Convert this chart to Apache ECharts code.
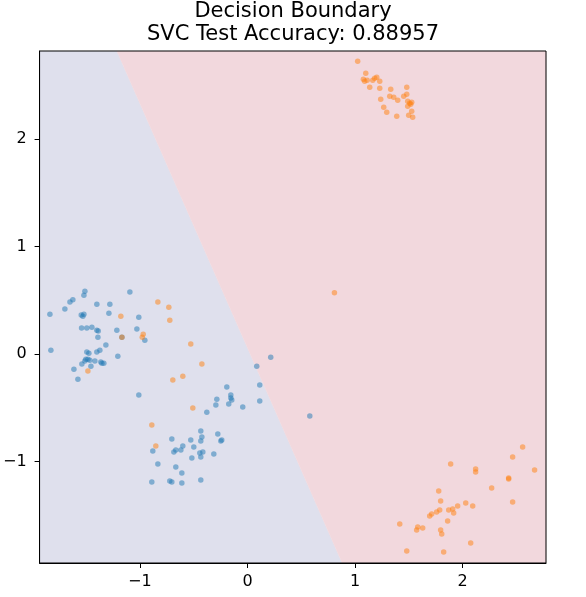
<!DOCTYPE html>
<html>
<head>
<meta charset="utf-8">
<script src="https://cdn.jsdelivr.net/npm/echarts@6/dist/echarts.min.js"></script>
<style>
  html, body { margin: 0; padding: 0; background: #fff; }
  #chart { width: 586px; height: 597px; }
</style>
</head>
<body>
<div id="chart"></div>
<script>
// ---- data ----
const titleText = 'Decision Boundary\nSVC Test Accuracy: 0.88957';
const xTicks = [-1, 0, 1, 2];
const yTicks = [-1, 0, 1, 2];
const xRange = [-1.932, 2.774];
const yRange = [-1.944, 2.821];
// decision boundary endpoints (top edge, bottom edge)
const boundaryTop = [-1.214, 2.821];
const boundaryBottom = [0.880, -1.944];

const class0 = [
  [-1.511,0.586],[-1.520,0.549],[-1.623,0.505],[-1.650,0.484],[-1.093,0.577],
  [-1.400,0.465],[-1.279,0.465],[-1.697,0.419],[-1.836,0.372],[-1.545,0.363],
  [-1.520,0.372],[-1.530,0.353],[-1.288,0.381],[-1.010,0.344],[-1.542,0.242],
  [-1.493,0.242],[-1.446,0.251],[-1.400,0.223],[-1.387,0.214],[-1.214,0.223],
  [-1.028,0.233],[-1.390,0.158],[-0.954,0.130],[-1.316,0.084],[-1.827,0.037],
  [-1.493,0.019],[-1.474,0.009],[-1.400,0.019],[-1.372,0.037],[-1.205,-0.019],
  [-1.502,-0.047],[-1.483,-0.047],[-1.511,-0.065],[-1.539,-0.093],[-1.465,-0.056],
  [-1.418,-0.065],[-1.363,-0.074],[-1.353,-0.084],[-1.335,-0.084],[-1.455,-0.112],
  [-1.613,-0.140],[-1.576,-0.233],[-1.010,-0.381],[-0.192,-0.307],[-0.285,-0.419],
  [0.114,-0.288],[-0.155,-0.381],[-0.146,-0.428],[-0.155,-0.409],[-0.294,-0.474],
  [-0.174,-0.465],[-0.044,-0.493],[0.114,-0.437],[-0.378,-0.540],[0.579,-0.577],
  [-0.434,-0.716],[-0.276,-0.744],[-0.703,-0.791],[-0.527,-0.800],[-0.424,-0.772],
  [-0.434,-0.809],[-0.239,-0.800],[-0.248,-0.809],[-0.601,-0.856],[-0.499,-0.865],
  [-0.880,-0.902],[-0.684,-0.912],[-0.666,-0.893],[-0.619,-0.893],[-0.443,-0.921],
  [-0.415,-0.912],[-0.313,-0.930],[-0.517,-0.967],[-0.434,-0.958],[-0.833,-1.023],
  [-0.666,-1.051],[-0.610,-1.107],[-0.889,-1.191],[-0.722,-1.181],[-0.703,-1.191],
  [-0.610,-1.200],[-0.434,-1.172],[0.216,-0.028],[0.086,-0.112],[-1.167,0.158]
];

const class1 = [
  [-0.833,0.484],[-0.731,0.437],[-1.177,0.353],[-0.722,0.316],[-0.969,0.186],
  [-0.978,0.158],[-1.167,0.158],[-0.527,0.093],[-0.424,-0.093],[-1.483,-0.158],
  [-0.694,-0.242],[-0.601,-0.205],[-0.508,-0.502],[-0.889,-0.660],[-0.852,-0.856],
  [0.808,0.570],
  [1.024,2.726],[1.099,2.614],[1.077,2.558],[1.089,2.540],[1.112,2.549],
  [1.164,2.549],[1.182,2.567],[1.201,2.577],[1.229,2.540],[1.136,2.484],
  [1.229,2.474],[1.331,2.465],[1.480,2.484],[1.480,2.419],[1.452,2.400],
  [1.322,2.400],[1.359,2.391],[1.396,2.363],[1.238,2.372],[1.489,2.353],
  [1.507,2.335],[1.517,2.326],[1.526,2.344],[1.489,2.307],[1.266,2.298],
  [1.294,2.251],[1.526,2.260],[1.387,2.214],[1.498,2.223],[1.535,2.205],
  [2.557,-0.865],[2.464,-0.958],[2.668,-1.079],[1.888,-1.023],[2.120,-1.070],
  [2.120,-1.098],[2.427,-1.153],[2.427,-1.163],[2.269,-1.247],[1.777,-1.274],
  [1.795,-1.367],[2.464,-1.377],[2.028,-1.386],[2.093,-1.414],[1.953,-1.414],
  [1.870,-1.451],[1.907,-1.442],[1.916,-1.479],[1.786,-1.451],[1.758,-1.470],
  [1.712,-1.488],[1.693,-1.507],[1.860,-1.553],[1.415,-1.581],[1.582,-1.609],
  [1.572,-1.637],[1.628,-1.619],[1.795,-1.637],[1.805,-1.674],[2.074,-1.758],
  [1.480,-1.833],[1.823,-1.842]
];

// ---- chart ----
const regions = [
  [[xRange[0], yRange[1]], boundaryTop, boundaryBottom, [xRange[0], yRange[0]]],
  [boundaryTop, [xRange[1], yRange[1]], [xRange[1], yRange[0]], boundaryBottom]
];
const regionColors = ['#dfe0ed', '#f2d8dd'];

const fmt = v => String(v).replace('-', '\u2212');
const font = 'DejaVu Sans';

const chart = echarts.init(document.getElementById('chart'), null, { renderer: 'canvas' });
chart.setOption({
  animation: false,
  backgroundColor: '#ffffff',
  title: {
    text: titleText,
    left: 'center',
    top: 0,
    padding: 0,
    textStyle: { fontFamily: font, fontSize: 21, fontWeight: 'normal', color: '#000', lineHeight: 23 }
  },
  grid: {
    left: 39, right: 40, top: 51, bottom: 34,
    show: true, borderColor: '#000', borderWidth: 1, backgroundColor: 'transparent', z: 10
  },
  xAxis: {
    type: 'value', min: xRange[0], max: xRange[1],
    splitLine: { show: false },
    axisLine: { show: true, onZero: false, lineStyle: { color: '#000', width: 1 } },
    axisTick: { show: true, length: 5, inside: false, customValues: xTicks, lineStyle: { color: '#000' } },
    axisLabel: { customValues: xTicks, formatter: fmt, color: '#000', fontFamily: font, fontSize: 16, margin: 11 }
  },
  yAxis: {
    type: 'value', min: yRange[0], max: yRange[1],
    splitLine: { show: false },
    axisLine: { show: true, onZero: false, lineStyle: { color: '#000', width: 1 } },
    axisTick: { show: true, length: 5, inside: false, customValues: yTicks, lineStyle: { color: '#000' } },
    axisLabel: { customValues: yTicks, formatter: fmt, color: '#000', fontFamily: font, fontSize: 16, margin: 13 }
  },
  series: [
    {
      type: 'custom',
      silent: true,
      z: 0,
      clip: true,
      data: regions.map((r, i) => [r[0][0], r[0][1], i]),
      renderItem: function (params, api) {
        const idx = params.dataIndex;
        const pts = regions[idx].map(p => api.coord(p));
        return {
          type: 'polygon',
          shape: { points: pts },
          style: { fill: regionColors[idx], stroke: regionColors[idx], lineWidth: 0.5 }
        };
      }
    },
    {
      type: 'scatter',
      z: 2,
      symbolSize: 5.5,
      data: class0,
      itemStyle: { color: '#1f77b4', opacity: 0.5 }
    },
    {
      type: 'scatter',
      z: 2,
      symbolSize: 5.5,
      data: class1,
      itemStyle: { color: '#ff7f0e', opacity: 0.5 }
    }
  ]
});
</script>
</body>
</html>
